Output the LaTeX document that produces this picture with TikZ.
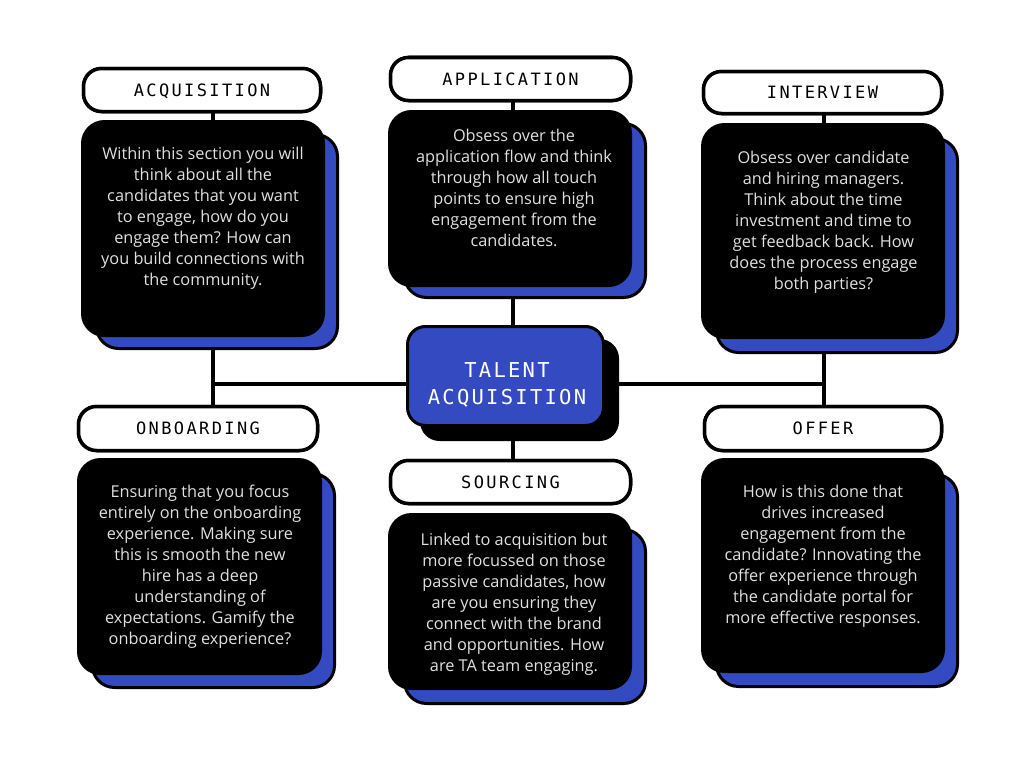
\documentclass[tikz,border=0pt]{standalone}
\usepackage{fontspec}
\setmainfont{Open Sans}
\newfontfamily\hdrfont[LetterSpace=14]{DejaVu Sans Mono}
\newfontfamily\ctrfont[LetterSpace=11]{DejaVu Sans Mono}
\definecolor{tablue}{HTML}{344AC0}
\definecolor{txtgray}{HTML}{E0E0E0}
\tikzset{
  pill/.style={draw=black, line width=3.5pt, fill=white, rounded corners=18pt,
    inner sep=0pt, text height=12.4pt, text depth=0pt,
    font=\hdrfont\fontsize{17}{17}\selectfont},
  darkbox/.style={draw=black, line width=3pt, fill=black, rounded corners=22pt, inner sep=0pt},
  shadowbox/.style={draw=black, line width=3pt, fill=tablue, rounded corners=22pt, inner sep=0pt},
  bodytext/.style={anchor=north, align=center, inner sep=0pt, text=txtgray,
    font=\fontsize{16.3}{21}\selectfont},
  link/.style={draw=black, line width=3.5pt},
}
\begin{document}
\begin{tikzpicture}[x=1pt,y=-1pt]
\useasboundingbox (0,0) rectangle (1024,768);
\fill[white] (0,0) rectangle (1024,768);

% junction coordinates
\coordinate (jl) at (213,384);
\coordinate (jm) at (513,384);
\coordinate (jr) at (824,384);

% header pills (defined first for connectors; drawn later on top)
\path
  node[pill, minimum width=237pt, minimum height=43pt] (acqh) at (202,90) {}
  node[pill, minimum width=240pt, minimum height=43pt] (apph) at (510.5,79) {}
  node[pill, minimum width=238pt, minimum height=42pt] (inth) at (822.5,92.5) {}
  node[pill, minimum width=239pt, minimum height=44pt] (onbh) at (198,428.5) {}
  node[pill, minimum width=240pt, minimum height=43pt] (srch) at (510.5,482) {}
  node[pill, minimum width=237pt, minimum height=44pt] (offh) at (823,428.5) {};

% connectors (behind everything)
\draw[link] (jl |- acqh.south) -- (jl |- onbh.north);
\draw[link] (jm |- apph.south) -- (jm |- srch.north);
\draw[link] (jr |- inth.south) -- (jr |- offh.north);
\draw[link] (jl) -- (jr);

% acquisition
\node[shadowbox, minimum width=241pt, minimum height=214pt] (acqs) at (217,241.5) {};
\node[darkbox, minimum width=241pt, minimum height=214pt] (acqb) at (203,228.5) {};
\node[bodytext] (acqt) at (203,146.5) {Within this section you will\\think about all the\\candidates that you want\\to engage, how do you\\engage them? How can\\you build connections with\\the community.};

% application
\node[shadowbox, minimum width=241pt, minimum height=174pt] (apps) at (525,210.5) {};
\node[darkbox, minimum width=241pt, minimum height=174pt] (appb) at (510,198.5) {};
\node[bodytext] (appt) at (514,128.5) {Obsess over the\\application flow and think\\through how all touch\\points to ensure high\\engagement from the\\candidates.};

% interview
\node[shadowbox, minimum width=241pt, minimum height=214pt] (ints) at (837,245.5) {};
\node[darkbox, minimum width=241pt, minimum height=213pt] (intb) at (823,231) {};
\node[bodytext] (intt) at (823.5,150.5) {Obsess over candidate\\and hiring managers.\\Think about the time\\investment and time to\\get feedback back. How\\does the process engage\\both parties?};

% onboarding
\node[shadowbox, minimum width=242pt, minimum height=214pt] (onbs) at (213.5,580.5) {};
\node[darkbox, minimum width=242pt, minimum height=214pt] (onbb) at (199.5,566.5) {};
\node[bodytext] (onbt) at (200,484.5) {Ensuring that you focus\\entirely on the onboarding\\experience. Making sure\\this is smooth the new\\hire has a deep\\understanding of\\expectations. Gamify the\\onboarding experience?};

% sourcing
\node[shadowbox, minimum width=241pt, minimum height=174pt] (srcs) at (525,616.5) {};
\node[darkbox, minimum width=241pt, minimum height=174pt] (srcb) at (510,601.5) {};
\node[bodytext] (srct) at (514,532.5) {Linked to acquisition but\\more focussed on those\\passive candidates, how\\are you ensuring they\\connect with the brand\\and opportunities. How\\are TA team engaging.};

% offer
\node[shadowbox, minimum width=241pt, minimum height=212pt] (offs) at (837,580.5) {};
\node[darkbox, minimum width=241pt, minimum height=212pt] (offb) at (823,565.5) {};
\node[bodytext] (offt) at (823,484.5) {How is this done that\\drives increased\\engagement from the\\candidate? Innovating the\\offer experience through\\the candidate portal for\\more effective responses.};

% header pills drawn on top
\node[pill, minimum width=237pt, minimum height=43pt] at (acqh) {ACQUISITION};
\node[pill, minimum width=240pt, minimum height=43pt] at (apph) {APPLICATION};
\node[pill, minimum width=238pt, minimum height=42pt] at (inth) {INTERVIEW};
\node[pill, minimum width=239pt, minimum height=44pt] at (onbh) {ONBOARDING};
\node[pill, minimum width=240pt, minimum height=43pt] at (srch) {SOURCING};
\node[pill, minimum width=237pt, minimum height=44pt] at (offh) {OFFER};

% centre
\node[draw=black, line width=3pt, fill=black, rounded corners=18pt, minimum width=196pt, minimum height=99pt] (ctrs) at (519.5,390) {};
\node[draw=black, line width=3pt, fill=tablue, rounded corners=18pt, minimum width=196pt, minimum height=99pt] (ctr) at (505.5,376) {};
\node[anchor=north, align=center, inner sep=0pt, text=white, font=\ctrfont\fontsize{20.5}{27}\selectfont] (ctrt) at (507,362.5) {TALENT\\ACQUISITION};
\end{tikzpicture}
\end{document}
